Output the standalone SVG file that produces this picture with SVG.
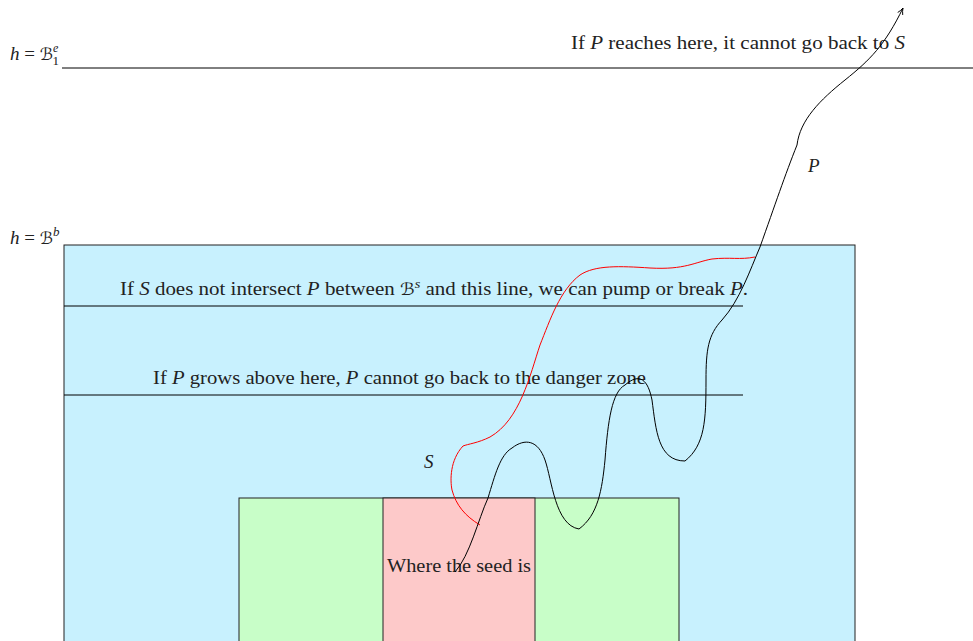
<svg xmlns="http://www.w3.org/2000/svg" width="973" height="641" viewBox="0 0 973 641">
<style>
text{font-family:"Liberation Serif","DejaVu Serif",serif;font-size:19px;fill:#222}
.m{font-style:italic}
.cal{font-family:"DejaVu Sans","Noto Sans",sans-serif;font-size:17px}
.ln{stroke:#000;stroke-width:1;fill:none}
.box{stroke:#222;stroke-width:1}
</style>
<defs>
<marker id="arr" viewBox="0 0 10 10" refX="9" refY="5" markerWidth="8" markerHeight="8" orient="auto" markerUnits="userSpaceOnUse">
<path d="M1,1.5 Q5,4 9,5 Q5,6 1,8.5" fill="none" stroke="#000" stroke-width="1.1"/>
</marker>
</defs>
<rect width="973" height="641" fill="#fff"/>
<g id="zone-b">
<rect class="box" x="64" y="245" width="791" height="420" fill="#c8f1fe"/>
</g>
<g id="green-zone">
<rect class="box" x="239" y="498" width="440" height="160" fill="#c8fec8"/>
</g>
<g id="seed-zone">
<rect class="box" x="383" y="498" width="152" height="160" fill="#fdc9c9"/>
<text x="387" y="572" textLength="144" lengthAdjust="spacingAndGlyphs">Where the seed is</text>
</g>
<g id="labels">
<text x="10" y="60" font-size="20"><tspan class="m">h</tspan> = <tspan class="cal">ℬ</tspan><tspan font-size="12" dy="-8" class="m">e</tspan><tspan font-size="13" dx="-6" dy="13">1</tspan></text>
<text x="10" y="244" font-size="20"><tspan class="m">h</tspan> = <tspan class="cal">ℬ</tspan><tspan font-size="13" dy="-8" class="m">b</tspan></text>
<text x="571" y="49" textLength="334" lengthAdjust="spacingAndGlyphs">If <tspan class="m">P</tspan> reaches here, it cannot go back to <tspan class="m">S</tspan></text>
<text x="120" y="295" textLength="628" lengthAdjust="spacingAndGlyphs">If <tspan class="m">S</tspan> does not intersect <tspan class="m">P</tspan> between <tspan class="cal">ℬ</tspan><tspan font-size="13" dy="-7" class="m">s</tspan><tspan dy="7"> and this line, we can pump or break </tspan><tspan class="m">P</tspan>.</text>
<text x="153" y="384" textLength="493" lengthAdjust="spacingAndGlyphs">If <tspan class="m">P</tspan> grows above here, <tspan class="m">P</tspan> cannot go back to the danger zone</text>
<text x="424" y="468" class="m">S</text>
<text x="808" y="172" class="m">P</text>
</g>
<g id="connectors">
<line class="ln" x1="62" y1="68" x2="973" y2="68"/>
<line class="ln" x1="64" y1="306" x2="743" y2="306"/>
<line class="ln" x1="64" y1="395" x2="743" y2="395"/>
<path d="M755,257 C740,260 730,257 712,259 C695,262 685,270 650,268 C620,266 595,265 580,275 C560,290 550,320 540,345 C530,375 520,420 490,437 C478,443 468,444 463,446 C450,460 450,480 452,490 C456,505 465,516 480,525" fill="none" stroke="#f00" stroke-width="1"/>
<path d="M455,572 C470,555 478,520 488,498 C495,475 500,455 512,448 C525,438 538,440 545,460 C552,480 555,525 579,529 C598,515 602,490 605,460 C608,420 612,392 625,385 C640,372 648,380 652,400 C656,430 658,461 685,461 C705,445 706,420 706,380 C706,350 708,335 722,320 C740,300 750,270 760,247 C775,205 785,175 797,145 C800,120 820,100 845,80 C870,60 885,45 903,8" fill="none" stroke="#000" stroke-width="1" marker-end="url(#arr)"/>
</g>
</svg>
